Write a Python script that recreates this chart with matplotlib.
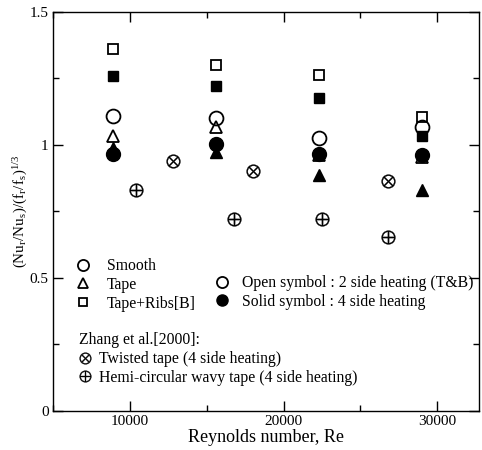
import numpy as np
import matplotlib
matplotlib.use("Agg")
import matplotlib.pyplot as plt
from matplotlib.lines import Line2D
from matplotlib.ticker import MultipleLocator

plt.rcParams['font.family'] = ['Liberation Serif', 'DejaVu Serif']
plt.rcParams['mathtext.fontset'] = 'stix'

# Present study, four Reynolds numbers
re_groups = [8900, 15600, 22300, 29000]
smooth_open = [1.109, 1.102, 1.026, 1.065]
smooth_solid = [0.965, 1.004, 0.966, 0.960]
tape_open = [1.034, 1.067, 0.960, 0.955]
tape_solid = [0.988, 0.971, 0.886, 0.830]
ribs_open = [1.359, 1.300, 1.262, 1.105]
ribs_solid = [1.259, 1.219, 1.175, 1.034]

# Zhang et al. [2000]
re_twisted = [12800, 18000, 26800]
twisted = [0.937, 0.900, 0.862]
re_wavy = [10400, 16800, 22500, 26800]
wavy = [0.828, 0.719, 0.721, 0.652]

fig = plt.figure(figsize=(4.82, 4.5), dpi=100)
ax = fig.add_axes([52.7/482, 1 - 410.7/450, (479 - 52.7)/482, (410.7 - 11.7)/450])

mew = 1.3
ax.plot(re_groups, ribs_open, 's', ms=7, mfc='none', mec='k', mew=mew, ls='none')
ax.plot(re_groups, ribs_solid, 's', ms=7, mfc='k', mec='k', ls='none')
ax.plot(re_groups, tape_open, '^', ms=8.5, mfc='none', mec='k', mew=mew, ls='none')
ax.plot(re_groups, tape_solid, '^', ms=8.5, mfc='k', mec='k', ls='none')
ax.plot(re_groups, smooth_open, 'o', ms=10, mfc='none', mec='k', mew=mew, ls='none')
ax.plot(re_groups, smooth_solid, 'o', ms=10, mfc='k', mec='k', ls='none')
ax.plot(re_twisted, twisted, marker=r'$\otimes$', ms=10, mfc='k', mec='k', mew=0.2, ls='none')
ax.plot(re_wavy, wavy, marker=r'$\oplus$', ms=10, mfc='k', mec='k', mew=0.2, ls='none')

ax.set_xlim(5000, 32700)
ax.set_ylim(0, 1.5)
ax.xaxis.set_major_locator(MultipleLocator(10000))
ax.xaxis.set_minor_locator(MultipleLocator(5000))
ax.yaxis.set_major_locator(MultipleLocator(0.5))
ax.yaxis.set_minor_locator(MultipleLocator(0.25))
ax.tick_params(which='both', direction='in', top=True, right=True, labelsize=11, pad=3)
ax.tick_params(which='major', length=7, width=1)
ax.tick_params(which='minor', length=4.5, width=1)
ax.set_yticks([0, 0.5, 1, 1.5])
ax.set_yticklabels(['0', '0.5', '1', '1.5'])
for s in ax.spines.values():
    s.set_linewidth(1)

ax.set_xlabel('Reynolds number, Re', fontsize=13, labelpad=1)
ax.set_ylabel(r'(Nu$_\mathregular{r}$/Nu$_\mathregular{s}$)/(f$_\mathregular{r}$/f$_\mathregular{s}$)$^\mathregular{1/3}$',
              fontsize=10.8)
ax.yaxis.set_label_coords(-0.055, 0.5)

fs = 11.3
h1 = [Line2D([], [], marker='o', ms=8, mfc='none', mec='k', mew=mew, ls='none'),
      Line2D([], [], marker='^', ms=7.5, mfc='none', mec='k', mew=mew, ls='none'),
      Line2D([], [], marker='s', ms=6, mfc='none', mec='k', mew=mew, ls='none')]
leg1 = ax.legend(h1, ['Smooth', 'Tape', 'Tape+Ribs[B]'], loc='upper left',
                 bbox_to_anchor=(0.048, 0.3825), frameon=False, fontsize=fs,
                 borderpad=0, borderaxespad=0, handlelength=1.2, handletextpad=0.95,
                 labelspacing=0.18)
ax.add_artist(leg1)

h2 = [Line2D([], [], marker='o', ms=8, mfc='none', mec='k', mew=mew, ls='none'),
      Line2D([], [], marker='o', ms=8, mfc='k', mec='k', ls='none')]
leg2 = ax.legend(h2, ['Open symbol : 2 side heating (T&B)', 'Solid symbol : 4 side heating'],
                 loc='upper left', bbox_to_anchor=(0.3756, 0.340), frameon=False, fontsize=fs,
                 borderpad=0, borderaxespad=0, handlelength=1.2, handletextpad=0.67,
                 labelspacing=0.18)
ax.add_artist(leg2)

h3 = [Line2D([], [], marker=r'$\otimes$', ms=8.5, mfc='k', mec='k', mew=0.2, ls='none'),
      Line2D([], [], marker=r'$\oplus$', ms=8.5, mfc='k', mec='k', mew=0.2, ls='none')]
leg3 = ax.legend(h3, ['Twisted tape (4 side heating)', 'Hemi-circular wavy tape (4 side heating)'],
                 title='Zhang et al.[2000]:', title_fontsize=fs, alignment='left',
                 loc='upper left', bbox_to_anchor=(0.0617, 0.1965), frameon=False, fontsize=fs,
                 borderpad=0, borderaxespad=0, handlelength=0.8, handletextpad=0.45,
                 labelspacing=0.18)

fig.savefig('out.png', dpi=100)
